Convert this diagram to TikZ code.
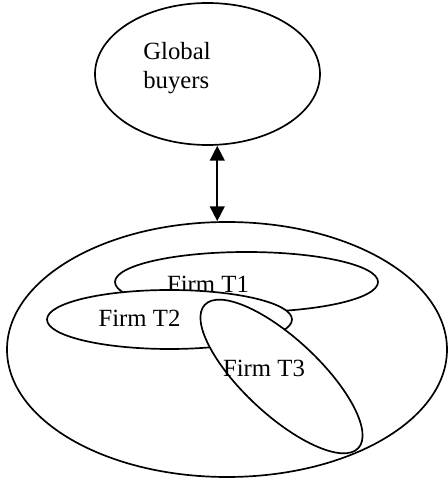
\documentclass[tikz,border=0pt]{standalone}
\usepackage{fontspec}
\setmainfont{Liberation Serif}
\usetikzlibrary{arrows.meta,positioning,calc,shapes.geometric}
\definecolor{Line}{HTML}{000000}
\definecolor{Paper}{HTML}{FFFFFF}

\begin{document}
\begin{tikzpicture}[blob/.style={ellipse,draw=Line,fill=Paper,line width=1.2pt,inner sep=0pt}, tag/.style={font=\fontsize{17.6}{20.5}\selectfont,inner sep=0pt}, link/.style={{Triangle[length=10.5pt,width=10.5pt]}-{Triangle[length=10.5pt,width=10.5pt]},draw=Line,line width=1.2pt}]
\useasboundingbox (0,0) rectangle (11.2,11.95);
\node[blob,minimum width=5.625cm,minimum height=3.55cm] (buyers) at (5.1875,10.1) {};
\node[tag,align=left,anchor=west] (buyerstext) at (3.575,10.25) {Global\\buyers};
\node[blob,minimum width=11cm,minimum height=6.375cm] (cluster) at (5.675,3.2125) {};
\coordinate (mid) at ($(buyers.south)!.5!(cluster.north)$);
\draw[link] (buyers.south -| mid) -- (cluster.north -| mid);
\node[blob,minimum width=6.575cm,minimum height=1.5cm] (T1) at (6.1625,4.9) {};
\node[tag,anchor=base] (T1text) at (5.2,4.64) {Firm T1};
\node[blob,minimum width=6.125cm,minimum height=1.475cm] (T2) at (4.2375,3.9625) {};
\node[tag,anchor=base] (T2text) at (3.4875,3.775) {Firm T2};
\node[blob,rotate=-43,minimum width=5.25cm,minimum height=1.9cm] (T3) at (7.0375,2.5375) {};
\node[tag,anchor=base] (T3text) at (6.6,2.525) {Firm T3};
\end{tikzpicture}
\end{document}
